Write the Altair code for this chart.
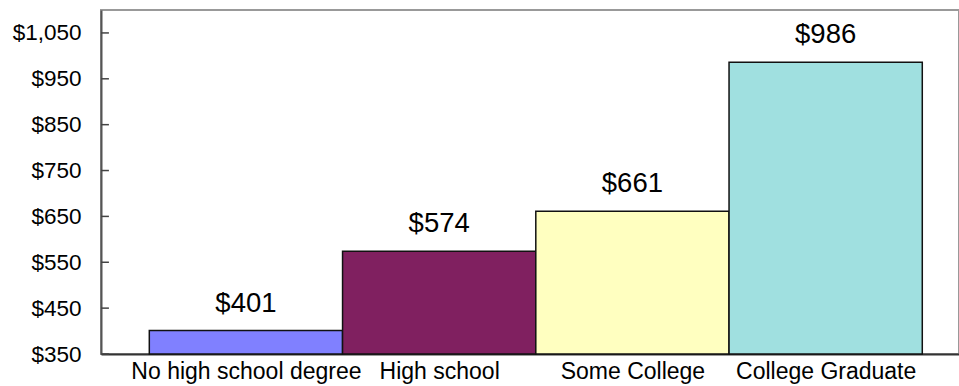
import altair as alt
import pandas as pd

categories = ["No high school degree", "High school", "Some College", "College Graduate"]
values = [401, 574, 661, 986]
colors = ["#8080FF", "#802060", "#FFFFC0", "#A0E0E0"]
y_ticks = [350, 450, 550, 650, 750, 850, 950, 1050]

df = pd.DataFrame({
    "cat": categories,
    "value": values,
    "idx": list(range(len(categories))),
})
df["start"] = df["idx"]
df["end"] = df["idx"] + 1
df["mid"] = df["idx"] + 0.5
df["label"] = ["$" + str(v) for v in values]

ticks_df = pd.DataFrame({"t": y_ticks})
ticks_df["x0"] = -0.25
ticks_df["x1"] = -0.209

FONT = "Liberation Sans"
xscale = alt.Scale(domain=[-0.25, 4.19], nice=False, zero=False)
yscale = alt.Scale(domain=[350, 1100], nice=False, zero=False)

label_expr = " : ".join(
    [f"datum.value == {i + 0.5} ? '{c}'" for i, c in enumerate(categories)]
) + " : ''"

bars = alt.Chart(df).mark_bar(stroke="#111111", strokeWidth=1.5).encode(
    x=alt.X("start:Q", scale=xscale,
            axis=alt.Axis(values=[0.5, 1.5, 2.5, 3.5], labelExpr=label_expr,
                          title=None, grid=False, ticks=False,
                          domainColor="#333333", domainWidth=2,
                          labelFont=FONT, labelFontSize=23, labelColor="#000000",
                          labelPadding=6, labelFlush=False, labelOverlap=False,
                          labelLimit=0)),
    x2="end:Q",
    y=alt.Y("value:Q", scale=yscale,
            axis=alt.Axis(values=y_ticks, format="$,.0f", title=None, grid=False,
                          ticks=False, domainColor="#555555", domainWidth=2,
                          labelFont=FONT, labelFontSize=22.5, labelColor="#000000",
                          labelPadding=20, labelLimit=0)),
    y2=alt.datum(350),
    color=alt.Color("cat:N", scale=alt.Scale(domain=categories, range=colors), legend=None),
)

texts = alt.Chart(df).mark_text(
    font=FONT, fontSize=27.5, color="#000000", baseline="alphabetic", dy=-19
).encode(
    x=alt.X("mid:Q", scale=xscale),
    y=alt.Y("value:Q", scale=yscale),
    text="label:N",
)

tick_marks = alt.Chart(ticks_df).mark_rule(color="#444444", strokeWidth=1.5).encode(
    x=alt.X("x0:Q", scale=xscale),
    x2="x1:Q",
    y=alt.Y("t:Q", scale=yscale),
)

chart = alt.layer(bars, tick_marks, texts).properties(
    width=858,
    height=344,
    autosize=alt.AutoSizeParams(type="none"),
    padding={"left": 101, "top": 10, "right": 0, "bottom": 32},
    background="#FFFFFF",
).configure_view(stroke="#999999", strokeWidth=2)

chart.save("out.html", embed_options={"renderer": "svg", "actions": False})
